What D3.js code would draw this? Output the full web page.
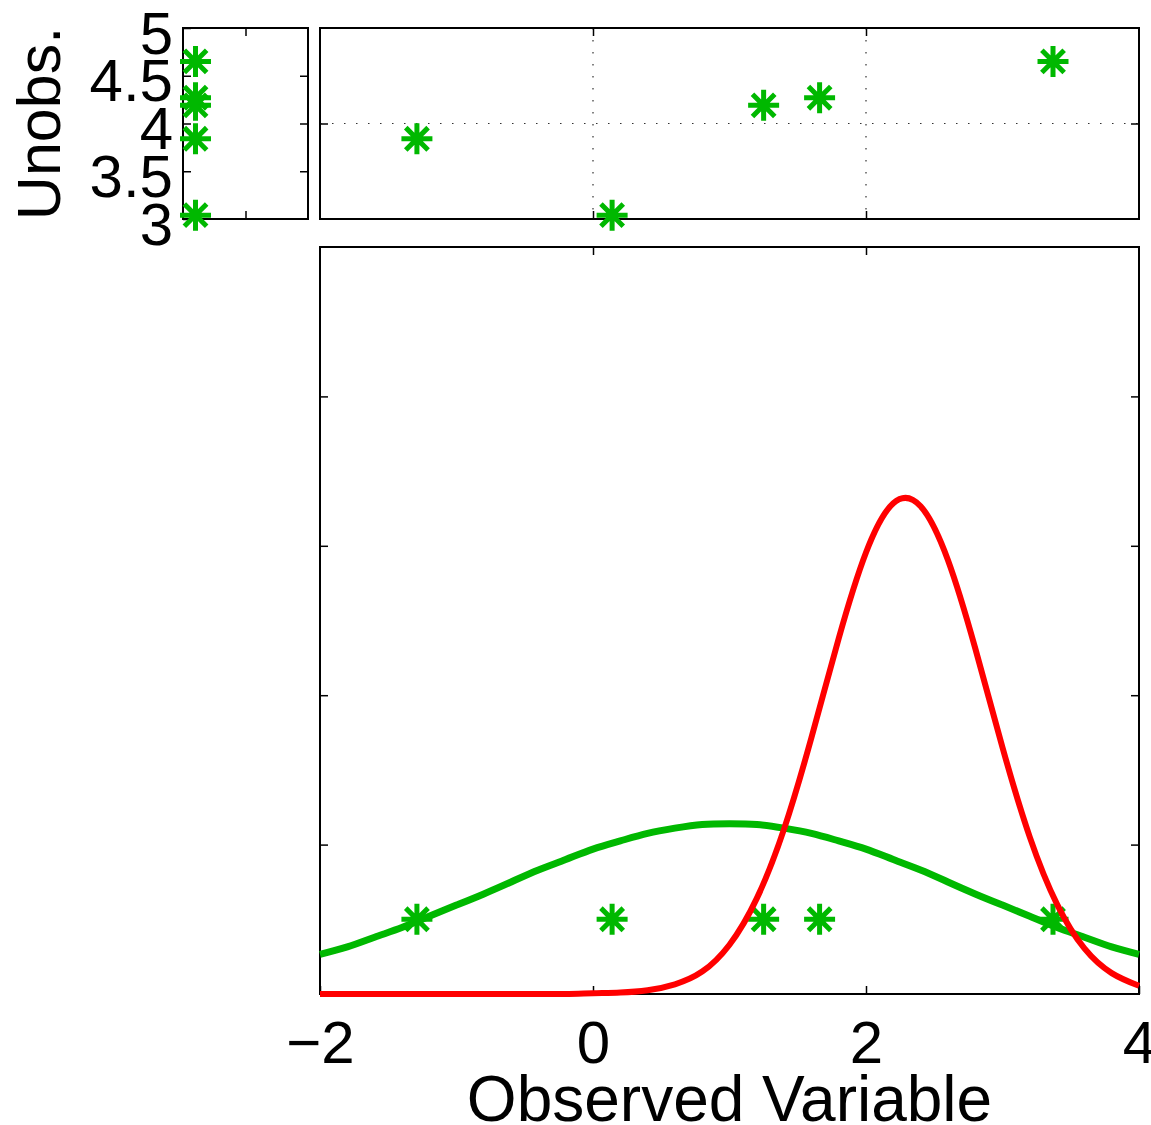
<!DOCTYPE html>
<html>
<head>
<meta charset="utf-8">
<script src="https://cdn.jsdelivr.net/npm/d3@7"></script>
<style>
  body { margin: 0; background: #fff; }
  text { font-family: "Liberation Sans", Arial, Helvetica, sans-serif; fill: #000; }
</style>
</head>
<body>
<div id="chart"></div>
<script>
const observed = [-1.29, 0.14, 1.25, 1.66, 3.37];
const unobserved = [3.84, 3.04, 4.19, 4.27, 4.65];
const markerLevel = 0.1;     // 主图中星号所在的高度
const marginPos = 0.1;       // 左上小图中星号的横向位置

// 曲线取样点
const curveX = [-2.0, -1.8, -1.6, -1.4, -1.2, -1.0, -0.8, -0.6, -0.4, -0.2, 0.0,
  0.2, 0.4, 0.6, 0.8, 1.0, 1.2, 1.4, 1.6, 1.8, 2.0, 2.2, 2.4, 2.6, 2.8, 3.0,
  3.2, 3.4, 3.6, 3.8, 4.0];
const greenCurve = [0.053, 0.063, 0.076, 0.089, 0.104, 0.119, 0.134, 0.150, 0.166, 0.180, 0.194,
  0.205, 0.215, 0.222, 0.227, 0.228, 0.227, 0.222, 0.215, 0.205, 0.194, 0.180, 0.166, 0.150, 0.134, 0.119,
  0.104, 0.089, 0.076, 0.063, 0.053];
const redCurve = [0, 0, 0, 0, 0, 0, 0, 0, 0, 0, 0.001,
  0.002, 0.005, 0.013, 0.030, 0.066, 0.128, 0.221, 0.343, 0.476, 0.591, 0.657, 0.653, 0.581, 0.463, 0.330,
  0.210, 0.120, 0.061, 0.028, 0.011];

// 刻度
const xTicks = [-2, 0, 2, 4];
const unobsTicks = [3, 3.5, 4, 4.5, 5];
const mainYTicks = [0, 0.2, 0.4, 0.6, 0.8, 1];

const W = 1151, H = 1125;
const green = "#00b800", red = "#ff0000";
const fontSize = 60;

const svg = d3.select("#chart").append("svg")
  .attr("width", W).attr("height", H);

// 各子图的位置
const mainPanel = { left: 320, right: 1139, top: 247, bottom: 994 };
const topPanel = { left: 320, right: 1139, top: 28, bottom: 219 };
const sidePanel = { left: 183, right: 308, top: 28, bottom: 219 };

const x = d3.scaleLinear().domain([-2, 4]).range([mainPanel.left, mainPanel.right]);
const yMain = d3.scaleLinear().domain([0, 1]).range([mainPanel.bottom, mainPanel.top]);
const yTop = d3.scaleLinear().domain([3, 5]).range([topPanel.bottom, topPanel.top]);
const xSide = d3.scaleLinear().domain([0, 1]).range([sidePanel.left, sidePanel.right]);

// 星号标记
function starPath(r) {
  const d = r * 0.72;
  return `M0,${-r}L0,${r}M${-r},0L${r},0M${-d},${-d}L${d},${d}M${-d},${d}L${d},${-d}`;
}

function cleanAxis(g) {
  g.select(".domain").remove();
  g.selectAll(".tick line").attr("stroke", "#000").attr("stroke-width", 1.5);
  g.selectAll(".tick text").attr("font-size", fontSize).attr("fill", "#000")
    .attr("font-family", "Liberation Sans, Arial, sans-serif");
}

function frame(p) {
  svg.append("rect")
    .attr("x", p.left).attr("y", p.top)
    .attr("width", p.right - p.left).attr("height", p.bottom - p.top)
    .attr("fill", "none").attr("stroke", "#000").attr("stroke-width", 2);
}

function stars(data, px, py) {
  svg.append("g").selectAll("path")
    .data(data).enter().append("path")
    .attr("transform", (d, i) => `translate(${px(d, i)},${py(d, i)})`)
    .attr("d", starPath(15.5))
    .attr("stroke", green).attr("stroke-width", 5).attr("fill", "none");
}

// ---------- 上方散点图 ----------
// 网格线
svg.append("g").selectAll("line.gx")
  .data([0, 2]).enter().append("line")
  .attr("x1", d => x(d)).attr("x2", d => x(d))
  .attr("y1", topPanel.top).attr("y2", topPanel.bottom)
  .attr("stroke", "#333").attr("stroke-width", 1.2).attr("stroke-dasharray", "1.5,10.5");
svg.append("line")
  .attr("x1", topPanel.left).attr("x2", topPanel.right)
  .attr("y1", yTop(4)).attr("y2", yTop(4))
  .attr("stroke", "#333").attr("stroke-width", 1.2).attr("stroke-dasharray", "1.5,10.5");

svg.append("g").attr("transform", `translate(0,${topPanel.bottom})`)
  .call(d3.axisBottom(x).tickValues([0, 2]).tickSizeInner(-8).tickSizeOuter(0).tickFormat(""))
  .call(cleanAxis);
svg.append("g").attr("transform", `translate(0,${topPanel.top})`)
  .call(d3.axisTop(x).tickValues([0, 2]).tickSizeInner(-8).tickSizeOuter(0).tickFormat(""))
  .call(cleanAxis);
svg.append("g").attr("transform", `translate(${topPanel.left},0)`)
  .call(d3.axisLeft(yTop).tickValues([4]).tickSizeInner(-8).tickSizeOuter(0).tickFormat(""))
  .call(cleanAxis);
svg.append("g").attr("transform", `translate(${topPanel.right},0)`)
  .call(d3.axisRight(yTop).tickValues([4]).tickSizeInner(-8).tickSizeOuter(0).tickFormat(""))
  .call(cleanAxis);
frame(topPanel);

stars(observed, d => x(d), (d, i) => yTop(unobserved[i]));

// ---------- 左上边缘图 ----------
svg.append("g").attr("transform", `translate(${sidePanel.left},0)`)
  .call(d3.axisLeft(yTop).tickValues(unobsTicks).tickSizeInner(-8).tickSizeOuter(0)
    .tickPadding(10).tickFormat(d3.format("")))
  .call(cleanAxis)
  .call(g => g.selectAll(".tick text").attr("dy", "0.42em"));
svg.append("g").attr("transform", `translate(${sidePanel.right},0)`)
  .call(d3.axisRight(yTop).tickValues([3.5, 4, 4.5]).tickSizeInner(-8).tickSizeOuter(0).tickFormat(""))
  .call(cleanAxis);
svg.append("g").attr("transform", `translate(0,${sidePanel.bottom})`)
  .call(d3.axisBottom(xSide).tickValues([0.5]).tickSizeInner(-8).tickSizeOuter(0).tickFormat(""))
  .call(cleanAxis);
svg.append("g").attr("transform", `translate(0,${sidePanel.top})`)
  .call(d3.axisTop(xSide).tickValues([0.5]).tickSizeInner(-8).tickSizeOuter(0).tickFormat(""))
  .call(cleanAxis);
frame(sidePanel);

stars(unobserved, () => xSide(marginPos), d => yTop(d));

svg.append("text")
  .attr("transform", `translate(60,${(sidePanel.top + sidePanel.bottom) / 2}) rotate(-90)`)
  .attr("text-anchor", "middle")
  .attr("font-size", 61)
  .text("Unobs.");

// ---------- 主图 ----------
svg.append("g").attr("transform", `translate(0,${mainPanel.bottom})`)
  .call(d3.axisBottom(x).tickValues(xTicks).tickSizeInner(-8).tickSizeOuter(0)
    .tickPadding(26).tickFormat(d3.format("")))
  .call(cleanAxis);
svg.append("g").attr("transform", `translate(0,${mainPanel.top})`)
  .call(d3.axisTop(x).tickValues([0, 2]).tickSizeInner(-8).tickSizeOuter(0).tickFormat(""))
  .call(cleanAxis);
svg.append("g").attr("transform", `translate(${mainPanel.left},0)`)
  .call(d3.axisLeft(yMain).tickValues(mainYTicks.slice(1, 5)).tickSizeInner(-8).tickSizeOuter(0).tickFormat(""))
  .call(cleanAxis);
svg.append("g").attr("transform", `translate(${mainPanel.right},0)`)
  .call(d3.axisRight(yMain).tickValues(mainYTicks.slice(1, 5)).tickSizeInner(-8).tickSizeOuter(0).tickFormat(""))
  .call(cleanAxis);
frame(mainPanel);

stars(observed, d => x(d), () => yMain(markerLevel));

const line = d3.line()
  .x(d => x(d[0]))
  .y(d => yMain(d[1]))
  .curve(d3.curveNatural);

svg.append("path")
  .datum(curveX.map((v, i) => [v, greenCurve[i]]))
  .attr("d", line)
  .attr("fill", "none").attr("stroke", green).attr("stroke-width", 7);

svg.append("path")
  .datum(curveX.map((v, i) => [v, redCurve[i]]))
  .attr("d", line)
  .attr("fill", "none").attr("stroke", red).attr("stroke-width", 6);

svg.append("text")
  .attr("x", (mainPanel.left + mainPanel.right) / 2)
  .attr("y", 1121)
  .attr("text-anchor", "middle")
  .attr("font-size", 64)
  .text("Observed Variable");
</script>
</body>
</html>
